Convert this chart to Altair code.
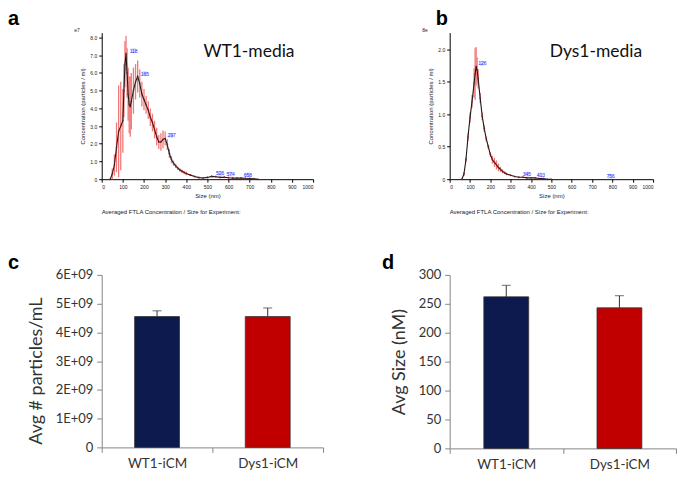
import altair as alt
import pandas as pd

# ---------------- Panel a: WT1-media size distribution (x1e7 particles/ml)
size_a = [40, 50, 60, 70, 80, 90, 100, 105, 110, 115, 120, 125, 130, 135, 140, 150,
          160, 170, 180, 190, 200, 210, 220, 230, 240, 250, 260, 270, 280, 290, 300,
          310, 320, 330, 340, 350, 360, 370, 380, 390, 400, 420, 440, 460, 480, 500,
          520, 540, 560, 580, 600, 620, 640, 660, 680, 700, 720, 740]
conc_a = [0.0, 0.3, 0.8, 1.8, 2.7, 3.0, 3.3, 5.0, 6.5, 7.1, 6.0, 4.8, 4.2, 4.1, 4.4, 5.0,
          5.5, 5.8, 5.4, 4.8, 4.5, 4.2, 3.9, 3.5, 3.2, 2.8, 2.4, 2.1, 2.1, 2.25, 2.3,
          1.95, 1.45, 1.1, 0.9, 0.75, 0.62, 0.52, 0.45, 0.38, 0.32, 0.23, 0.15, 0.09, 0.07, 0.1,
          0.16, 0.14, 0.1, 0.11, 0.08, 0.06, 0.06, 0.07, 0.05, 0.04, 0.02, 0.0]
err_a = [0.0, 0.3, 0.6, 1.4, 2.6, 2.5, 1.8, 1.5, 1.3, 1.0, 1.4, 1.5, 1.6, 1.7, 1.6, 1.3,
         1.0, 0.9, 0.8, 0.7, 0.6, 0.5, 0.5, 0.5, 0.5, 0.5, 0.5, 0.4, 0.5, 0.5, 0.4,
         0.3, 0.25, 0.2, 0.15, 0.12, 0.1, 0.1, 0.1, 0.1, 0.1, 0.05, 0.05, 0.05, 0.05, 0.05,
         0.05, 0.05, 0.05, 0.05, 0.05, 0.05, 0.05, 0.05, 0.05, 0.05, 0.05, 0.0]
peak_size_a = [118, 170, 297, 526, 576, 658]
peak_conc_a = [7.1, 5.8, 2.3, 0.16, 0.11, 0.07]
peak_text_a = ["118", "165", "297", "526", "574", "658"]

# ---------------- Panel b: Dys1-media size distribution (x1e8 particles/ml)
size_b = [60, 70, 80, 90, 100, 110, 120, 125, 130, 135, 140, 150, 160, 170, 180, 190,
          200, 210, 220, 230, 240, 250, 260, 270, 280, 300, 320, 340, 360, 380, 400,
          420, 440, 460, 480, 500]
conc_b = [0.0, 0.08, 0.3, 0.65, 0.95, 1.2, 1.48, 1.62, 1.74, 1.68, 1.55, 1.25, 0.97, 0.78,
          0.62, 0.5, 0.38, 0.3, 0.26, 0.22, 0.18, 0.15, 0.12, 0.1, 0.08, 0.06, 0.04, 0.03,
          0.03, 0.02, 0.02, 0.02, 0.01, 0.01, 0.0, 0.0]
err_b = [0.0, 0.03, 0.04, 0.06, 0.08, 0.1, 0.23, 0.4, 0.3, 0.2, 0.15, 0.08, 0.06, 0.05,
         0.04, 0.03, 0.04, 0.06, 0.07, 0.07, 0.06, 0.04, 0.03, 0.02, 0.02, 0.01, 0.01, 0.01,
         0.01, 0.01, 0.01, 0.01, 0.0, 0.0, 0.0, 0.0]
peak_size_b = [126, 345, 413, 756]
peak_conc_b = [1.74, 0.03, 0.02, 0.0]
peak_text_b = ["126", "345", "413", "756"]

# ---------------- Panels c, d: bar charts
groups = ["WT1-iCM", "Dys1-iCM"]
particles = [4.55e9, 4.55e9]
particles_err = [0.2e9, 0.3e9]
avg_size = [262, 243]
avg_size_err = [20, 21]
bar_colors = ["#0c1a4e", "#c00000"]

SMALL_FONT = "Liberation Sans"
BIG_FONT = "Lato"


def nta_panel(sizes, conc, err, psize, pconc, ptext, ymax, yticks, ylabel_fmt,
              exp_text, name, name_x, label, width, height, title_dx, title_offset):
    df = pd.DataFrame({"size": sizes, "conc": conc, "err": err})
    df["lo"] = (df["conc"] - df["err"]).clip(lower=0)
    df["hi"] = df["conc"] + df["err"]
    dpk = pd.DataFrame({"size": psize, "conc": pconc, "t": ptext})

    xs = alt.Scale(domain=[0, 1000], nice=False)
    ys = alt.Scale(domain=[0, ymax], nice=False)
    xaxis = alt.Axis(values=list(range(0, 1001, 100)), title="Size (nm)", format="d",
                     labelFontSize=5, titleFontSize=6, titleFontWeight="normal",
                     tickSize=3, labelPadding=2, titlePadding=3, labelOverlap=False,
                     labelFont=SMALL_FONT, titleFont=SMALL_FONT,
                     domainColor="#000", tickColor="#000", labelColor="#222", titleColor="#222")
    yaxis = alt.Axis(values=yticks, title="Concentration (particles / ml)",
                     labelExpr=ylabel_fmt, labelOverlap=False,
                     labelFontSize=5, titleFontSize=6, titleFontWeight="normal",
                     tickSize=3, labelPadding=2, titlePadding=4,
                     labelFont=SMALL_FONT, titleFont=SMALL_FONT,
                     domainColor="#000", tickColor="#000", labelColor="#222", titleColor="#222")

    def X(f):
        return alt.X(f, scale=xs, axis=xaxis)

    def Y(f):
        return alt.Y(f, scale=ys, axis=yaxis)

    rules = alt.Chart(df).transform_filter("datum.err > 0").mark_rule(
        color="#f07a7a", strokeWidth=1.3).encode(x=X("size:Q"), y=Y("lo:Q"), y2="hi:Q")
    line = alt.Chart(df).mark_line(color="#1a1a1a", strokeWidth=1.1).encode(
        x=X("size:Q"), y=Y("conc:Q"))
    dots = alt.Chart(df).mark_point(shape="cross", size=4, color="#8b1a1a", filled=True).encode(
        x=X("size:Q"), y=Y("conc:Q"))
    peak_box = alt.Chart(dpk).mark_square(size=22, color="#c9d4ff", opacity=0.8,
                                          xOffset=7, yOffset=-3).encode(
        x=X("size:Q"), y=Y("conc:Q"))
    peaks = alt.Chart(dpk).mark_text(color="#2626ff", fontSize=5, align="left", dx=3, dy=-3,
                                     font=SMALL_FONT).encode(
        x=X("size:Q"), y=Y("conc:Q"), text="t:N")
    dexp = pd.DataFrame({"size": [0], "conc": [ymax], "t": [exp_text]})
    exp = alt.Chart(dexp).mark_text(fontSize=5, align="right", dx=-22, dy=-3,
                                    font=SMALL_FONT, color="#222").encode(
        x=X("size:Q"), y=Y("conc:Q"), text="t:N")
    dcap = pd.DataFrame({"size": [0], "conc": [0],
                         "t": ["Averaged FTLA Concentration / Size for Experiment:"]})
    cap = alt.Chart(dcap).mark_text(fontSize=6, align="left", dy=33, dx=0,
                                    font=SMALL_FONT, color="#222").encode(
        x=X("size:Q"), y=Y("conc:Q"), text="t:N")
    dname = pd.DataFrame({"size": [name_x], "conc": [ymax * 0.87], "t": [name]})
    nm = alt.Chart(dname).mark_text(fontSize=17.5, align="left", font=BIG_FONT,
                                    color="#111").encode(
        x=X("size:Q"), y=Y("conc:Q"), text="t:N")

    return alt.layer(rules, line, dots, peak_box, peaks, exp, cap, nm).properties(
        width=width, height=height,
        title=alt.TitleParams(label, anchor="start", frame="group", dx=title_dx,
                              fontSize=20, fontWeight="bold", font="Liberation Sans",
                              color="#000", offset=title_offset))


def bar_panel(values, errs, ymax, yvalues, ylabel_expr, ytitle, title_y, label, width,
              height, title_dx, title_offset):
    df = pd.DataFrame({"g": groups, "v": values, "e": errs, "c": bar_colors})
    df["hi"] = df["v"] + df["e"]
    xs = alt.Scale(domain=groups, paddingInner=0, paddingOuter=0)
    ys = alt.Scale(domain=[0, ymax], nice=False)
    xaxis = alt.Axis(title=None, labelFontSize=13.5, labelFont=BIG_FONT, labelColor="#333",
                     labelAngle=0, tickBand="extent", tickSize=5, labelPadding=4,
                     domainColor="#868686", tickColor="#868686")
    yaxis = alt.Axis(values=yvalues, labelOverlap=False,
                     title=ytitle, labelExpr=ylabel_expr, labelFontSize=13,
                     labelFont=BIG_FONT, labelColor="#333", titleFont=BIG_FONT,
                     titleFontSize=18, titleFontWeight="normal", titleColor="#333",
                     titleY=title_y,
                     tickSize=5, labelPadding=4, titlePadding=10,
                     domainColor="#868686", tickColor="#868686")

    def X():
        return alt.X("g:N", scale=xs, axis=xaxis, sort=groups)

    def Y(f):
        return alt.Y(f, scale=ys, axis=yaxis)

    bars = alt.Chart(df).mark_bar(width=45, stroke="#333", strokeWidth=0.8).encode(
        x=X(), y=Y("v:Q"), color=alt.Color("c:N", scale=None))
    rule = alt.Chart(df).mark_rule(color="#333", strokeWidth=1).encode(
        x=X(), y=Y("v:Q"), y2="hi:Q")
    cap = alt.Chart(df).mark_tick(color="#333", size=9, thickness=1).encode(
        x=X(), y=Y("hi:Q"))
    return alt.layer(bars, rule, cap).properties(
        width=width, height=height,
        title=alt.TitleParams(label, anchor="start", frame="group", dx=title_dx,
                              fontSize=20, fontWeight="bold", font="Liberation Sans",
                              color="#000", offset=title_offset))


pa = nta_panel(size_a, conc_a, err_a, peak_size_a, peak_conc_a, peak_text_a, 8.28,
               [0, 1, 2, 3, 4, 5, 6, 7, 8],
               "datum.value == 0 ? '0' : format(datum.value, '.1f')",
               "e7", "WT1-media", 481, "a", 212, 147, -94, -1)
pb = nta_panel(size_b, conc_b, err_b, peak_size_b, peak_conc_b, peak_text_b, 2.26,
               [0, 0.5, 1.0, 1.5, 2.0],
               "datum.value == 0 ? '0' : format(datum.value, '.1f')",
               "8e", "Dys1-media", 492, "b", 204, 147, -14, -1)

pc = bar_panel(particles, particles_err, 6e9, [i * 1e9 for i in range(7)],
               "datum.value == 0 ? '0' : (datum.value / 1e9) + 'E+09'",
               "Avg # particles/mL", 96, "c", 222, 173, -94, -4)
pd_ = bar_panel(avg_size, avg_size_err, 300, list(range(0, 301, 50)), "datum.label",
                "Avg Size (nM)", 87, "d", 227, 174, -68, -4)

top = alt.hconcat(pa, pb, spacing=108)
bottom = alt.hconcat(pc, pd_, spacing=58)

chart = alt.vconcat(top, bottom, spacing=38).properties(padding=0).configure_view(
    stroke=None).configure_axis(grid=False)

chart.save("out.html", embed_options={"renderer": "svg", "actions": False})
